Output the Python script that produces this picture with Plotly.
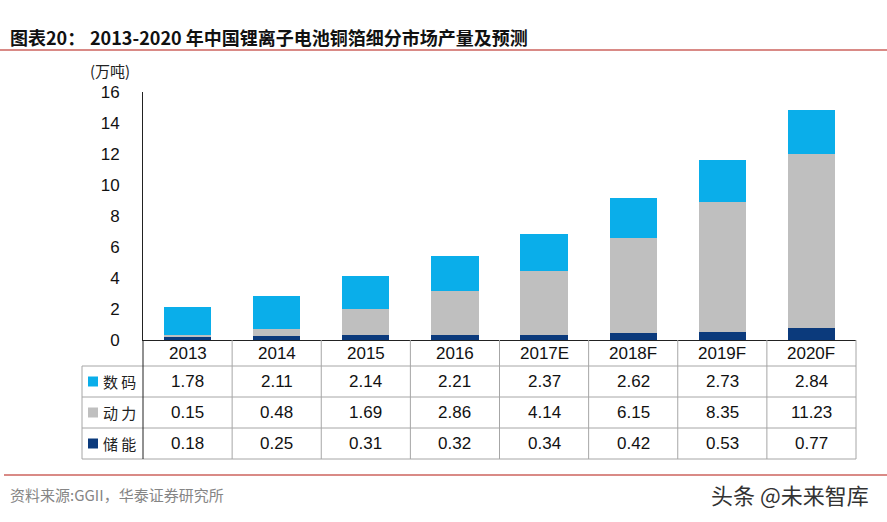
import plotly.graph_objects as go

categories = ["2013", "2014", "2015", "2016", "2017E", "2018F", "2019F", "2020F"]
digital = [1.78, 2.11, 2.14, 2.21, 2.37, 2.62, 2.73, 2.84]
power = [0.15, 0.48, 1.69, 2.86, 4.14, 6.15, 8.35, 11.23]
storage = [0.18, 0.25, 0.31, 0.32, 0.34, 0.42, 0.53, 0.77]
series_names = ["数码", "动力", "储能"]
y_ticks = [0, 2, 4, 6, 8, 10, 12, 14, 16]

colors = {"数码": "#0AAEEA", "动力": "#BFBFBF", "储能": "#0B3A7C"}

W, H = 887, 522
L, R, T, B = 143, 856, 92, 340
pw, ph = R - L, B - T

def px(x):
    return (x - L) / pw

def py(y):
    return (B - y) / ph

fig = go.Figure()
series_vals = {"数码": digital, "动力": power, "储能": storage}
for name in ["储能", "动力", "数码"]:
    fig.add_trace(go.Bar(x=categories, y=series_vals[name], name=name,
                         marker=dict(color=colors[name], line=dict(width=0)),
                         width=0.53, showlegend=False, hoverinfo="x+y+name"))

shapes = []
annotations = []
grid = "#A6A6A6"
row_edges = [366, 397, 428, 459]
for yy in row_edges:
    shapes.append(dict(type="line", xref="paper", yref="paper", x0=px(82), x1=1,
                       y0=py(yy), y1=py(yy), line=dict(color=grid, width=1)))
n = len(categories)
for k in range(n + 1):
    shapes.append(dict(type="line", xref="paper", yref="paper", x0=k / n, x1=k / n,
                       y0=0, y1=py(459),
                       line=dict(color=grid if k > 0 else "#222222", width=1)))
shapes.append(dict(type="line", xref="paper", yref="paper", x0=px(82), x1=px(82),
                   y0=py(366), y1=py(459), line=dict(color=grid, width=1)))

def ann(x, y, text, size, color="#111111", xanchor="center", xref="paper", family=None):
    f = dict(size=size, color=color)
    if family:
        f["family"] = family
    return dict(x=x, xref=xref, y=y, yref="paper", text=text, showarrow=False,
                xanchor=xanchor, yanchor="middle", font=f)

for i, c in enumerate(categories):
    annotations.append(ann((i + 0.5) / n, py(353), c, 17))
row_centers = [381.5, 412.5, 443.5]
for name, yc in zip(series_names, row_centers):
    vals = series_vals[name]
    for i, v in enumerate(vals):
        annotations.append(ann((i + 0.5) / n, py(yc), f"{v:.2f}", 17))
    shapes.append(dict(type="rect", xref="paper", yref="paper", x0=px(88), x1=px(98),
                       y0=py(yc + 5), y1=py(yc - 5), fillcolor=colors[name],
                       line=dict(width=0)))
    annotations.append(ann(px(101), py(yc), " ".join(name), 15, "#222222", "left",
                           family="Noto Sans CJK SC"))

annotations.append(ann(px(110), py(70), "(万吨)", 15, "#222222", family="Noto Sans CJK SC"))
annotations.append(ann(px(8), py(37), "<b>图表20：</b>", 18, xanchor="left",
                       family="Noto Sans CJK SC"))
annotations.append(ann(px(88), py(37), "<b>2013-2020 年中国锂离子电池铜箔细分市场产量及预测</b>",
                       18, xanchor="left", family="Noto Sans CJK SC"))
shapes.append(dict(type="line", xref="paper", yref="paper", x0=px(0), x1=px(887),
                   y0=py(50), y1=py(50), line=dict(color="#D98A86", width=2)))
shapes.append(dict(type="line", xref="paper", yref="paper", x0=px(4), x1=px(887),
                   y0=py(475), y1=py(475), line=dict(color="#D98A86", width=2)))
annotations.append(ann(px(8), py(494), "资料来源:GGII，华泰证券研究所", 15, "#858585",
                       "left", family="Noto Sans CJK SC"))
annotations.append(ann(px(871), py(494), "头条 @未来智库", 22, "#333333", "right",
                       family="Noto Sans CJK SC"))

fig.update_layout(
    width=W, height=H, barmode="stack",
    margin=dict(l=L, r=W - R, t=T, b=H - B, pad=0),
    paper_bgcolor="white", plot_bgcolor="white",
    font=dict(family="Liberation Sans, Arial, Noto Sans CJK SC", size=16, color="#111111"),
    xaxis=dict(type="category", range=[-0.5, n - 0.5], showticklabels=False,
               showgrid=False, showline=True, linecolor="#222222", linewidth=1,
               zeroline=False, fixedrange=True),
    yaxis=dict(range=[0, 16], tickvals=y_ticks, ticktext=[str(t) for t in y_ticks],
               showgrid=False, showline=True, linecolor="#222222", linewidth=1,
               zeroline=False, ticks="", ticklabelstandoff=19,
               tickfont=dict(size=17, color="#111111"), fixedrange=True),
    shapes=shapes, annotations=annotations,
)

fig.write_html("out.html", config={"displayModeBar": False},
               post_script="document.body.style.margin='0px';document.body.style.overflow='hidden';")
